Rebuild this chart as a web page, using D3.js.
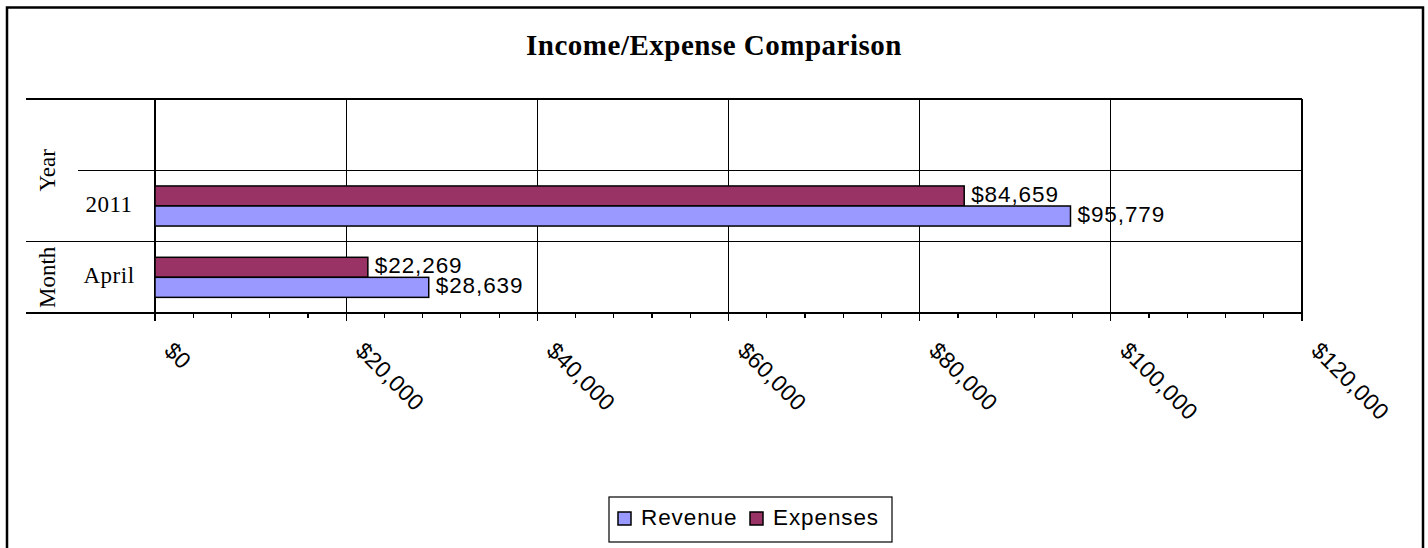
<!DOCTYPE html>
<html>
<head>
<meta charset="utf-8">
<script src="https://cdn.jsdelivr.net/npm/d3@7"></script>
<style>
  html, body { margin: 0; padding: 0; background: #fff; }
  svg { display: block; }
</style>
</head>
<body>
<svg id="chart" width="1428" height="548"></svg>
<script>
// ---- data ----
const title = "Income/Expense Comparison";
const categories = ["", "2011", "April"];           // inner category labels (top to bottom)
const groups = [                                     // outer category labels
  { label: "Year", members: ["", "2011"] },
  { label: "Month", members: ["April"] }
];
const seriesNames = ["Expenses", "Revenue"];          // drawn top to bottom within a band
const legendOrder = ["Revenue", "Expenses"];
const revenue = [null, 95779, 28639];
const expenses = [null, 84659, 22269];
const tickValues = [0, 20000, 40000, 60000, 80000, 100000, 120000];
const tickLabels = ["$0", "$20,000", "$40,000", "$60,000", "$80,000", "$100,000", "$120,000"];
const colors = { Revenue: "#9999FF", Expenses: "#993366" };

const seriesData = { Revenue: revenue, Expenses: expenses };

// ---- layout ----
const svg = d3.select("#chart");
const plot = { left: 155, right: 1302, top: 99, bottom: 313 };

const x = d3.scaleLinear().domain([0, 120000]).range([plot.left, plot.right]);
const y = d3.scaleBand().domain(categories).range([plot.top, plot.bottom]).padding(0);
const ySub = d3.scaleBand().domain(seriesNames).range([0, y.bandwidth()]).paddingInner(0).paddingOuter(0.78);

// outer border
svg.append("rect").attr("x", 7).attr("y", 7.5).attr("width", 1416).attr("height", 560)
  .attr("fill", "none").attr("stroke", "#000").attr("stroke-width", 2.5);

// title
svg.append("text").attr("x", 714).attr("y", 55)
  .attr("text-anchor", "middle")
  .attr("font-family", "'Liberation Serif', 'Times New Roman', serif")
  .attr("font-weight", "bold").attr("font-size", 29)
  .attr("letter-spacing", 0.5)
  .text(title);

const grid = svg.append("g").attr("stroke", "#000").attr("stroke-width", 1.2).attr("shape-rendering", "crispEdges");

// vertical gridlines (major ticks extend below axis)
grid.selectAll("line.v").data(tickValues).join("line")
  .attr("x1", d => x(d)).attr("x2", d => x(d))
  .attr("y1", plot.top).attr("y2", plot.bottom + 8);

// minor ticks
const minor = d3.range(0, 120001, 4000).filter(v => v % 20000 !== 0);
grid.selectAll("line.m").data(minor).join("line")
  .attr("x1", d => x(d)).attr("x2", d => x(d))
  .attr("y1", plot.bottom).attr("y2", plot.bottom + 5);

// horizontal band boundaries
const boundaries = [
  { y: plot.top, x1: 26 },
  { y: y("2011"), x1: 78 },
  { y: y("April"), x1: 26 },
  { y: plot.bottom, x1: 26 }
];
grid.selectAll("line.h").data(boundaries).join("line")
  .attr("x1", d => d.x1).attr("x2", plot.right)
  .attr("y1", d => d.y).attr("y2", d => d.y);

// bars
const barRows = [];
categories.forEach((c, i) => {
  seriesNames.forEach(s => {
    const v = seriesData[s][i];
    if (v != null) barRows.push({ cat: c, series: s, value: v });
  });
});

svg.append("g").selectAll("rect").data(barRows).join("rect")
  .attr("x", x(0))
  .attr("y", d => y(d.cat) + ySub(d.series))
  .attr("width", d => x(d.value) - x(0))
  .attr("height", ySub.bandwidth())
  .attr("fill", d => colors[d.series])
  .attr("stroke", "#000").attr("stroke-width", 1.5);

// value labels
const fmt = d3.format("$,");
svg.append("g").selectAll("text").data(barRows).join("text")
  .attr("x", d => x(d.value) + 7)
  .attr("y", d => y(d.cat) + ySub(d.series) + ySub.bandwidth() / 2 + 6)
  .attr("font-family", "'Liberation Sans', Arial, sans-serif")
  .attr("font-size", 22.5).attr("letter-spacing", 0.9)
  .text(d => fmt(d.value));

// x tick labels (rotated 45deg)
svg.append("g").selectAll("text").data(tickValues).join("text")
  .attr("transform", d => `translate(${x(d) + 8},${352}) rotate(45)`)
  .attr("font-family", "'Liberation Sans', Arial, sans-serif")
  .attr("font-size", 23).attr("letter-spacing", 0.3)
  .text((d, i) => tickLabels[i]);

// inner category labels
svg.append("g").selectAll("text").data(categories).join("text")
  .attr("x", 109)
  .attr("y", d => y(d) + y.bandwidth() / 2 + 6)
  .attr("text-anchor", "middle")
  .attr("font-family", "'Liberation Serif', 'Times New Roman', serif")
  .attr("font-size", 23).attr("letter-spacing", 0.5)
  .text(d => d);

// outer group labels
svg.append("g").selectAll("text").data(groups).join("text")
  .attr("transform", g => {
    const top = y(g.members[0]);
    const bot = y(g.members[g.members.length - 1]) + y.bandwidth();
    return `translate(55,${(top + bot) / 2}) rotate(-90)`;
  })
  .attr("text-anchor", "middle")
  .attr("font-family", "'Liberation Serif', 'Times New Roman', serif")
  .attr("font-size", 23)
  .text(g => g.label);

// legend
const lg = svg.append("g");
lg.append("rect").attr("x", 609).attr("y", 497).attr("width", 283).attr("height", 45)
  .attr("fill", "#fff").attr("stroke", "#000").attr("stroke-width", 1.2);
const legendX = { Revenue: 618, Expenses: 750 };
const items = lg.selectAll("g.item").data(legendOrder).join("g")
  .attr("transform", d => `translate(${legendX[d]},0)`);
items.append("rect").attr("x", 0).attr("y", 512).attr("width", 13).attr("height", 13)
  .attr("fill", d => colors[d]).attr("stroke", "#000").attr("stroke-width", 1.5);
items.append("text").attr("x", 23).attr("y", 525)
  .attr("font-family", "'Liberation Sans', Arial, sans-serif")
  .attr("font-size", 22.5).attr("letter-spacing", 0.9)
  .text(d => d);
</script>
</body>
</html>
